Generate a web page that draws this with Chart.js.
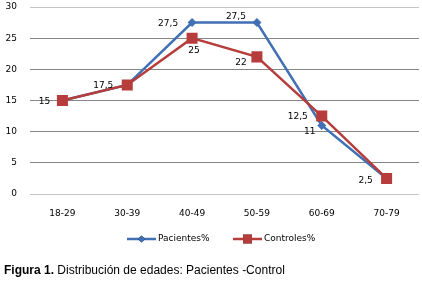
<!DOCTYPE html>
<html>
<head>
<meta charset="utf-8">
<script src="https://cdn.jsdelivr.net/npm/chart.js@4"></script>
<style>
  html, body { margin: 0; padding: 0; background: #fff; }
  #wrap { position: relative; width: 422px; height: 292px; }
  #caption {
    position: absolute; left: 4px; top: 263px;
    font: 12px "Liberation Sans", Arial, sans-serif; color: #000; white-space: nowrap;
  }
</style>
</head>
<body>
<div id="wrap">
  <canvas id="chart" width="422" height="292"></canvas>
  <div id="caption"><b>Figura 1.</b> Distribución de edades: Pacientes -Control</div>
</div>
<script>
// age groups and the two series (percent)
const ageGroups = ['18-29', '30-39', '40-49', '50-59', '60-69', '70-79'];
const pacientes = [15, 17.5, 27.5, 27.5, 11, 2.5];
const controles = [15, 17.5, 25, 22, 12.5, 2.5];
const yTicks = [0, 5, 10, 15, 20, 25, 30];

// where each value label sits relative to its point (null = no label)
const pacLabelPos = [[-18, 1], [-24, 1], [-24, 1], [-21, -6], [-12, 6], [-21, 2]];
const conLabelPos = [null, null, [2, 12], [-16, 6], [-24, 1], null];

const BLUE = '#4170B4';
const RED = '#B63D3B';
const SMALL = '9px "DejaVu Sans", Verdana, sans-serif';

const valueLabels = {
  id: 'valueLabels',
  afterDatasetsDraw(chart) {
    const ctx = chart.ctx;
    ctx.save();
    ctx.font = SMALL;
    ctx.fillStyle = '#000';
    ctx.textAlign = 'center';
    ctx.textBaseline = 'middle';
    chart.data.datasets.forEach((ds, di) => {
      const meta = chart.getDatasetMeta(di);
      ds.labelPos.forEach((off, i) => {
        if (!off) return;
        const pt = meta.data[i];
        ctx.fillText(String(ds.data[i]).replace('.', ','), pt.x + off[0], pt.y + off[1]);
      });
    });
    ctx.restore();
  }
};

// Excel-style legend: short line with the marker in the middle
const lineLegend = {
  id: 'lineLegend',
  afterDraw(chart) {
    const ctx = chart.ctx;
    const y = 239;
    const items = [
      { x: 127, ds: chart.data.datasets[0] },
      { x: 233, ds: chart.data.datasets[1] },
    ];
    ctx.save();
    ctx.font = SMALL;
    ctx.textBaseline = 'middle';
    items.forEach(({ x, ds }) => {
      ctx.strokeStyle = ds.borderColor;
      ctx.lineWidth = 2.5;
      ctx.beginPath();
      ctx.moveTo(x, y);
      ctx.lineTo(x + 29, y);
      ctx.stroke();
      Chart.helpers.drawPoint(ctx, {
        pointStyle: ds.pointStyle,
        radius: ds.pointRadius * 0.8,
        borderWidth: 0,
      }, x + 14.5, y);
      ctx.fillStyle = ds.pointBackgroundColor;
      ctx.fill();
      ctx.fillStyle = '#000';
      ctx.fillText(ds.label, x + 31, y);
    });
    ctx.restore();
  }
};

new Chart(document.getElementById('chart'), {
  type: 'line',
  data: {
    labels: ageGroups,
    datasets: [
      {
        label: 'Pacientes%',
        data: pacientes,
        labelPos: pacLabelPos,
        borderColor: BLUE,
        backgroundColor: BLUE,
        pointBackgroundColor: BLUE,
        pointBorderColor: BLUE,
        pointStyle: 'rectRot',
        pointRadius: 4.5,
        pointBorderWidth: 0,
        borderWidth: 2.5,
        tension: 0,
        order: 1,
      },
      {
        label: 'Controles%',
        data: controles,
        labelPos: conLabelPos,
        borderColor: RED,
        backgroundColor: RED,
        pointBackgroundColor: RED,
        pointBorderColor: RED,
        pointStyle: 'rect',
        pointRadius: 7.8,
        pointBorderWidth: 0,
        borderWidth: 2.5,
        tension: 0,
        order: 0,
      },
    ],
  },
  options: {
    responsive: false,
    animation: false,
    events: [],
    layout: { autoPadding: false, padding: { left: 4, right: 3, top: 7, bottom: 73 } },
    plugins: {
      legend: { display: false },
      tooltip: { enabled: false },
    },
    scales: {
      x: {
        offset: true,
        grid: { display: false, drawTicks: false },
        border: { display: false },
        ticks: { font: { family: '"DejaVu Sans", Verdana, sans-serif', size: 9 }, color: '#000', padding: 14 },
        afterFit: axis => {
          axis.height = 25;
          axis.paddingLeft = 0;
          axis.paddingRight = 0;
        },
      },
      y: {
        min: 0,
        max: 30,
        afterBuildTicks: axis => { axis.ticks = yTicks.map(v => ({ value: v })); },
        grid: {
          drawTicks: false,
          color: c => (c.tick.value === 0 || c.tick.value === 30) ? '#C4C4C4' : '#868686',
          lineWidth: 1,
        },
        border: { display: false },
        ticks: { font: { family: '"DejaVu Sans", Verdana, sans-serif', size: 9 }, color: '#000', padding: 13 },
        afterFit: axis => {
          axis.width = 26;
          axis.paddingTop = 0;
          axis.paddingBottom = 0;
        },
      },
    },
  },
  plugins: [valueLabels, lineLegend],
});
</script>
</body>
</html>
